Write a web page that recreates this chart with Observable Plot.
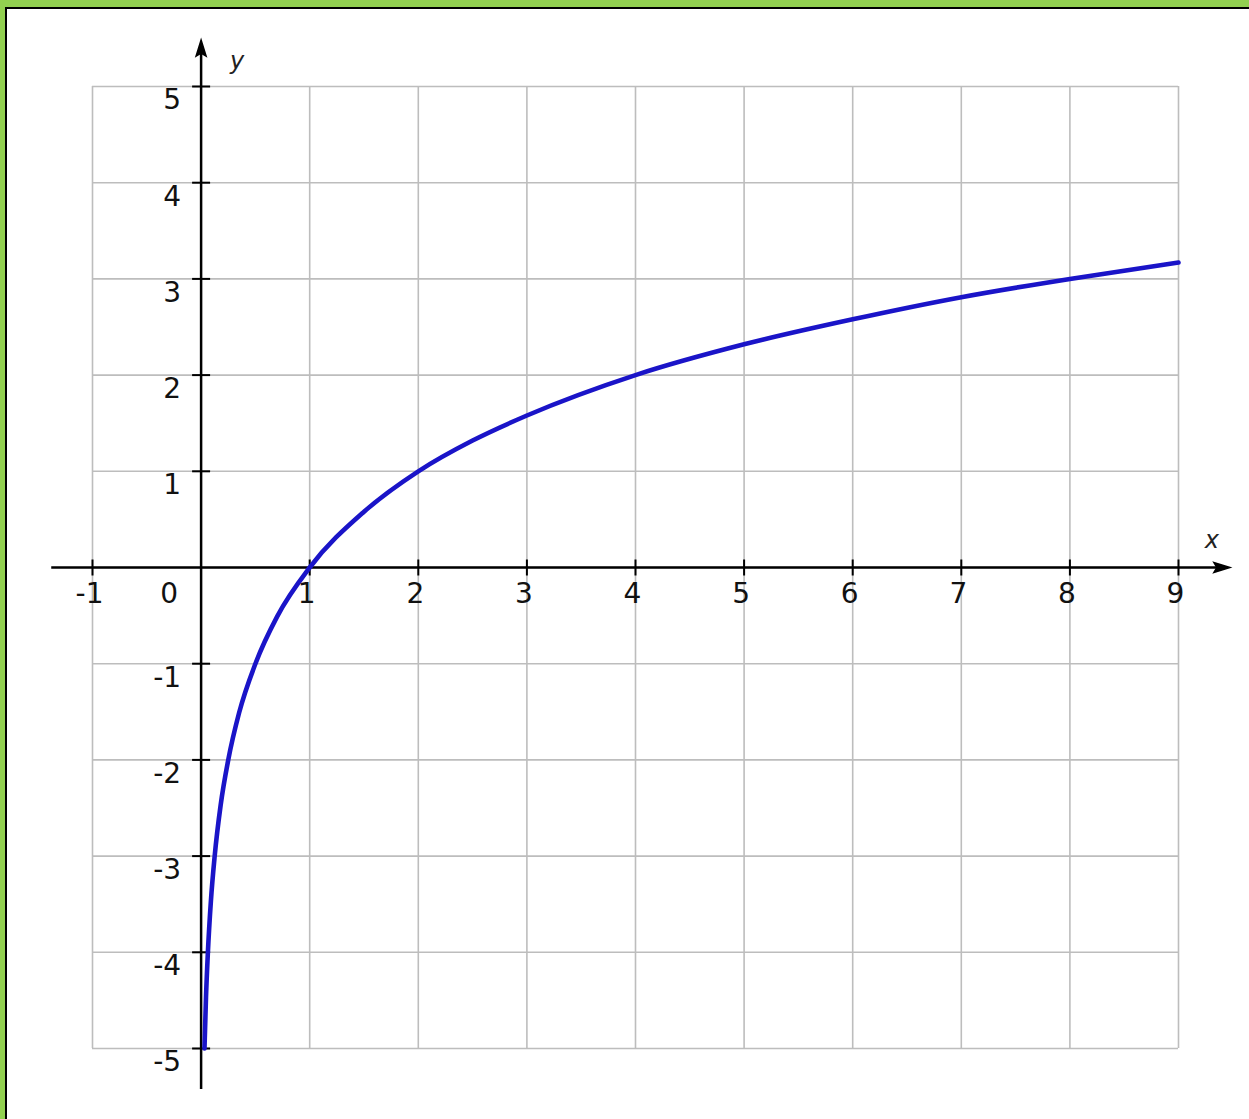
<!DOCTYPE html>
<html>
<head>
<meta charset="utf-8">
<script src="https://cdn.jsdelivr.net/npm/d3@7"></script>
<script src="https://cdn.jsdelivr.net/npm/@observablehq/plot@0.6"></script>
<style>
  html, body { margin: 0; padding: 0; background: #fff; }
  #wrap { position: relative; width: 1249px; height: 1119px; background: #92d050; overflow: hidden; }
  #inner { position: absolute; top: 7px; left: 5px; right: 0; bottom: 0; background: #fff;
           border-top: 2px solid #000; border-left: 2px solid #000; }
  #chart { position: absolute; top: 0; left: 0; }
  #chart svg { background: transparent; overflow: visible; }
</style>
</head>
<body>
<div id="wrap"><div id="inner"></div><div id="chart"></div></div>
<script>
// ---- data ----
const gridX = [-1, 0, 1, 2, 3, 4, 5, 6, 7, 8, 9];
const gridY = [-5, -4, -3, -2, -1, 0, 1, 2, 3, 4, 5];
const xTicks = [-1, 1, 2, 3, 4, 5, 6, 7, 8, 9];
const xTickLabels = ["-1", "1", "2", "3", "4", "5", "6", "7", "8", "9"];
const yTicks = [-5, -4, -3, -2, -1, 1, 2, 3, 4, 5];
const yTickLabels = ["-5", "-4", "-3", "-2", "-1", "1", "2", "3", "4", "5"];
const originLabel = ["0"];
const axisXExtent = [-1.38, 9.4];
const axisYExtent = [-5.42, 5.4];
// curve points
const curveX = [0.03125, 0.045, 0.0625, 0.09, 0.125, 0.18, 0.25, 0.35, 0.5, 0.7, 1, 1.5, 2, 2.5, 3, 4, 5, 6, 7, 8, 9];
const curveY = [-5, -4.47, -4, -3.47, -3, -2.47, -2, -1.51, -1, -0.51, 0, 0.58, 1, 1.32, 1.58, 2, 2.32, 2.58, 2.81, 3, 3.17];

const curve = curveX.map((x, i) => ({x, y: curveY[i]}));
const xLab = xTicks.map((x, i) => ({x, label: xTickLabels[i]}));
const yLab = yTicks.map((y, i) => ({y, label: yTickLabels[i]}));

const vTick = {draw(ctx) { ctx.moveTo(0, -8); ctx.lineTo(0, 8); }};
const hTick = {draw(ctx) { ctx.moveTo(-9, 0); ctx.lineTo(9, 0); }};
// small filled arrow heads pointing right / up
const headRight = {draw(ctx) { ctx.moveTo(8, 0); ctx.lineTo(-8, -5); ctx.lineTo(-5, 0); ctx.lineTo(-8, 5); ctx.closePath(); }};
const headUp = {draw(ctx) { ctx.moveTo(0, -8); ctx.lineTo(-5, 8); ctx.lineTo(0, 5); ctx.lineTo(5, 8); ctx.closePath(); }};

const font = "DejaVu Sans";
const chart = Plot.plot({
  width: 1249,
  height: 1119,
  marginLeft: 92,
  marginRight: 71,
  marginTop: 86,
  marginBottom: 71,
  x: {domain: [-1, 9], axis: null},
  y: {domain: [-5, 5], axis: null},
  style: {background: "transparent", fontFamily: font},
  marks: [
    Plot.ruleX(gridX, {stroke: "#bdbdbd", strokeWidth: 1.6, strokeOpacity: 1}),
    Plot.ruleY(gridY, {stroke: "#bdbdbd", strokeWidth: 1.6, strokeOpacity: 1}),
    Plot.link([0], {x1: axisXExtent[0], x2: axisXExtent[1], y1: 0, y2: 0, stroke: "#000", strokeWidth: 2.5}),
    Plot.link([0], {x1: 0, x2: 0, y1: axisYExtent[0], y2: axisYExtent[1], stroke: "#000", strokeWidth: 2.5}),
    Plot.dot([0], {x: () => axisXExtent[1], y: () => 0, symbol: headRight, r: 5, fill: "#000", stroke: "#000", strokeWidth: 1.5}),
    Plot.dot([0], {x: () => 0, y: () => axisYExtent[1], symbol: headUp, r: 5, fill: "#000", stroke: "#000", strokeWidth: 1.5}),
    Plot.dot(xTicks, {x: d => d, y: () => 0, symbol: vTick, r: 5, fill: "none", stroke: "#000", strokeWidth: 2}),
    Plot.dot(yTicks, {x: () => 0, y: d => d, symbol: hTick, r: 5, fill: "none", stroke: "#000", strokeWidth: 2}),
    Plot.line(curve, {x: "x", y: "y", stroke: "#1a14c8", strokeWidth: 4.6, curve: "monotone-x"}),
    Plot.text(xLab, {x: "x", y: () => 0, text: "label", dx: -3, dy: 27, fontSize: 28, fontFamily: font, fill: "#111", textAnchor: "middle"}),
    Plot.text(originLabel, {x: () => 0, y: () => 0, text: d => d, dx: -32, dy: 27, fontSize: 28, fontFamily: font, fill: "#111", textAnchor: "middle"}),
    Plot.text(yLab, {x: () => 0, y: "y", text: "label", dx: -20, dy: 14, fontSize: 28, fontFamily: font, fill: "#111", textAnchor: "end"}),
    Plot.text(["y"], {x: () => 0, y: () => axisYExtent[1], text: d => d, dx: 36, dy: 13, fontSize: 24, fontStyle: "italic", fontFamily: font, fill: "#222"}),
    Plot.text(["x"], {x: () => axisXExtent[1], y: () => 0, text: d => d, dx: -10, dy: -27, fontSize: 24, fontStyle: "italic", fontFamily: font, fill: "#222"})
  ]
});
document.getElementById("chart").appendChild(chart);
</script>
</body>
</html>
